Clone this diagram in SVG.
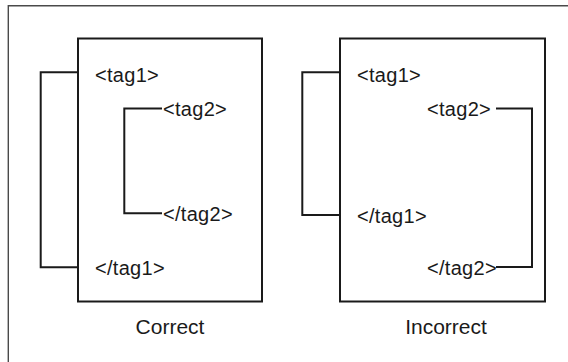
<svg xmlns="http://www.w3.org/2000/svg" width="568" height="362" viewBox="0 0 568 362">
<style>
.frame{fill:none;stroke:#4a4a4a;stroke-width:1.4}
.box{fill:none;stroke:#1a1a1a;stroke-width:2}
.conn{fill:none;stroke:#1a1a1a;stroke-width:2}
.tag{font-family:"Liberation Sans",Arial,sans-serif;font-size:20px;letter-spacing:0.3px;fill:#1a1a1a}
.cap{font-family:"Liberation Sans",Arial,sans-serif;font-size:21px;fill:#1a1a1a;text-anchor:middle}
</style>
<rect width="568" height="362" fill="#fff"/>
<path class="frame" d="M8.3,362 V5.7 H568"/>
<g id="correct">
<rect class="box" x="78" y="38.5" width="184" height="263"/>
<text class="cap" x="170" y="334">Correct</text>
</g>
<g id="incorrect">
<rect class="box" x="340" y="38.5" width="205" height="263"/>
<text class="cap" x="446" y="334">Incorrect</text>
</g>
<g id="c-tag1-open"><text class="tag" x="95" y="82">&lt;tag1&gt;</text></g>
<g id="c-tag2-open"><text class="tag" x="163" y="116">&lt;tag2&gt;</text></g>
<g id="c-tag2-close"><text class="tag" x="163" y="221">&lt;/tag2&gt;</text></g>
<g id="c-tag1-close"><text class="tag" x="95" y="275">&lt;/tag1&gt;</text></g>
<g id="i-tag1-open"><text class="tag" x="357" y="82">&lt;tag1&gt;</text></g>
<g id="i-tag2-open"><text class="tag" x="427" y="116">&lt;tag2&gt;</text></g>
<g id="i-tag1-close"><text class="tag" x="357" y="223">&lt;/tag1&gt;</text></g>
<g id="i-tag2-close"><text class="tag" x="427" y="275">&lt;/tag2&gt;</text></g>
<g id="connectors">
<path class="conn" d="M78,72.3 H40.7 V267.3 H78"/>
<path class="conn" d="M162,108.5 H124.3 V213.3 H162"/>
<path class="conn" d="M340,72.3 H302.3 V215 H340"/>
<path class="conn" d="M496,108.5 H532 V267 H496"/>
</g>
</svg>
